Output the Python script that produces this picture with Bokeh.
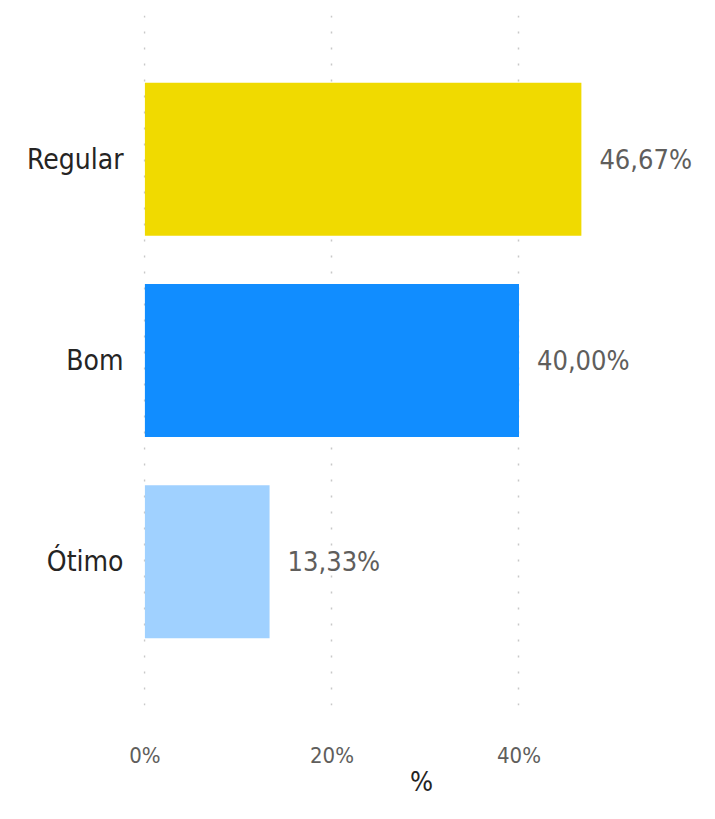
from bokeh.plotting import figure
from bokeh.models import ColumnDataSource, FactorRange, Range1d, FixedTicker, CustomJSTickFormatter
from bokeh.core.properties import value
from bokeh.embed import file_html
from bokeh.resources import INLINE

categories = ["Ótimo", "Bom", "Regular"]
values = [13.33, 40.00, 46.67]
labels = ["13,33%", "40,00%", "46,67%"]
colors = ["#A0D1FF", "#118DFF", "#F0DA00"]
x_ticks = [0, 20, 40]

FONT = "'DejaVu Sans Condensed', 'Roboto Condensed', 'Liberation Sans Narrow', Roboto"

src = ColumnDataSource(dict(cat=categories, val=values, lab=labels, col=colors))

p = figure(
    y_range=FactorRange(factors=categories, range_padding=0.143),
    x_range=Range1d(-0.15, 59.3),
    frame_width=556, frame_height=690,
    min_border_left=143, min_border_top=15, min_border_right=8, min_border_bottom=98,
    output_backend="svg", toolbar_location=None,
)
p.outline_line_color = None
p.background_fill_color = "white"
p.border_fill_color = "white"

p.hbar(y="cat", right="val", left=0, height=0.76, color="col", line_color=None, source=src)
p.text(x="val", y="cat", text="lab", source=src, x_offset=18,
       text_baseline="middle", text_align="left",
       text_font=value(FONT), text_font_size="27px", text_color="#605E5C")

# grid
p.ygrid.grid_line_color = None
p.xgrid.ticker = FixedTicker(ticks=x_ticks)
p.xgrid.grid_line_color = "#C8C8C8"
p.xgrid.grid_line_dash = "2 14"
p.xgrid.grid_line_width = 1.5
p.xgrid.level = "underlay"

# x axis
p.xaxis.ticker = FixedTicker(ticks=x_ticks)
p.xaxis.formatter = CustomJSTickFormatter(code="return tick + '%';")
p.xaxis.axis_line_color = None
p.xaxis.major_tick_line_color = None
p.xaxis.minor_tick_line_color = None
p.xaxis.major_label_standoff = 31
p.xaxis.major_label_text_font = FONT
p.xaxis.major_label_text_font_size = "22px"
p.xaxis.major_label_text_color = "#605E5C"
p.xaxis.axis_label = "%"
p.xaxis.axis_label_standoff = -5
p.xaxis.axis_label_text_font = FONT
p.xaxis.axis_label_text_font_size = "27px"
p.xaxis.axis_label_text_font_style = "normal"
p.xaxis.axis_label_text_color = "#252423"

# y axis
p.yaxis.axis_line_color = None
p.yaxis.major_tick_line_color = None
p.yaxis.minor_tick_line_color = None
p.yaxis.major_label_standoff = 14
p.yaxis.major_label_text_font = FONT
p.yaxis.major_label_text_font_size = "28px"
p.yaxis.major_label_text_color = "#252423"

open("out.html", "w").write(file_html(p, INLINE))
